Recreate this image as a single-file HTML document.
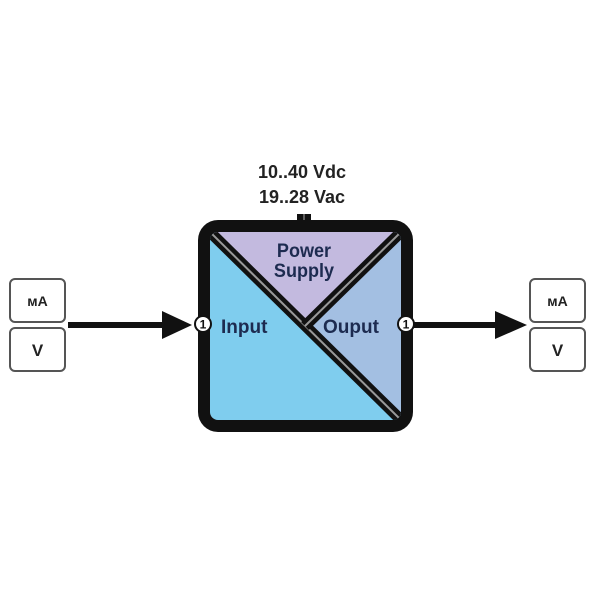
<!DOCTYPE html>
<html><head><meta charset="utf-8"><style>html,body{margin:0;padding:0;background:#fff;}svg{display:block}</style></head>
<body>
<svg width="600" height="600" viewBox="0 0 600 600" xmlns="http://www.w3.org/2000/svg" font-family="Liberation Sans, sans-serif" font-weight="bold">
<defs><clipPath id="c"><rect x="210" y="232" width="191" height="188" rx="8"/></clipPath></defs>
<text x="302" y="178" font-size="18" text-anchor="middle" fill="#222">10..40 Vdc</text>
<text x="302" y="203" font-size="18" text-anchor="middle" fill="#222">19..28 Vac</text>
<rect x="297" y="214" width="14" height="12" fill="#111"/>
<line x1="304" y1="214" x2="304" y2="226" stroke="#777" stroke-width="1.5"/>
<rect x="198" y="220" width="215" height="212" rx="20" fill="#111"/>
<g clip-path="url(#c)">
<rect x="210" y="232" width="191" height="188" fill="#7fcdee"/>
<polygon points="210,232 401,232 401,420" fill="#a3bfe2"/>
<polygon points="210,232 401,232 305,326" fill="#c3badf"/>
<line x1="210" y1="232" x2="401" y2="420" stroke="#111" stroke-width="11"/>
<line x1="210" y1="232" x2="401" y2="420" stroke="#999" stroke-width="2"/>
<line x1="401" y1="232" x2="305" y2="326" stroke="#111" stroke-width="11"/>
<line x1="401" y1="232" x2="305" y2="326" stroke="#999" stroke-width="2"/>
</g>
<text x="304" y="257" font-size="19" text-anchor="middle" fill="#1d2b50" transform="translate(304 0) scale(0.95 1) translate(-304 0)">Power</text>
<text x="304" y="277" font-size="19" text-anchor="middle" fill="#1d2b50" transform="translate(304 0) scale(0.95 1) translate(-304 0)">Supply</text>
<text x="221" y="333" font-size="19" fill="#1d2b50">Input</text>
<text x="323" y="333" font-size="19" fill="#1d2b50">Ouput</text>
<line x1="68" y1="325" x2="168" y2="325" stroke="#111" stroke-width="6"/>
<polygon points="162,311 192,325 162,339" fill="#111"/>
<line x1="413" y1="325" x2="500" y2="325" stroke="#111" stroke-width="6"/>
<polygon points="495,311 527,325 495,339" fill="#111"/>
<circle cx="203" cy="324" r="8" fill="#fff" stroke="#111" stroke-width="2"/>
<text x="203" y="328.5" font-size="12" text-anchor="middle" fill="#111">1</text>
<circle cx="406" cy="324" r="8" fill="#fff" stroke="#111" stroke-width="2"/>
<text x="406" y="328.5" font-size="12" text-anchor="middle" fill="#111">1</text>
<g fill="#fff" stroke="#555" stroke-width="2">
<rect x="10" y="279" width="55" height="43" rx="5"/>
<rect x="10" y="328" width="55" height="43" rx="5"/>
<rect x="530" y="279" width="55" height="43" rx="5"/>
<rect x="530" y="328" width="55" height="43" rx="5"/>
</g>
<g font-size="14" text-anchor="middle" fill="#222">
<text x="37.5" y="306">мA</text>
<text x="557.5" y="306">мA</text>
</g>
<g font-size="17" text-anchor="middle" fill="#222">
<text x="37.5" y="356">V</text>
<text x="557.5" y="356">V</text>
</g>
</svg>
</body></html>
